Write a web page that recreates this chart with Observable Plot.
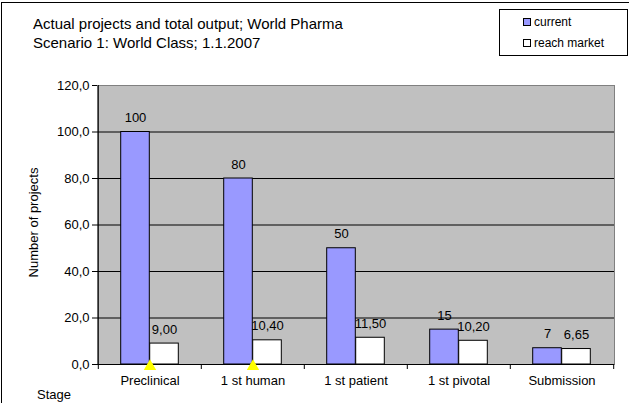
<!DOCTYPE html>
<html><head><meta charset="utf-8">
<script src="https://cdn.jsdelivr.net/npm/d3@7"></script>
<script src="https://cdn.jsdelivr.net/npm/@observablehq/plot@0.6"></script>
<style>
html,body{margin:0;padding:0;overflow:hidden;background:#fff;}
#wrap{position:relative;width:629px;height:403px;font-family:"Liberation Sans",Arial,sans-serif;color:#000;}
#chart{position:absolute;left:0;top:0;}
#border{position:absolute;left:1px;top:2px;width:700px;height:500px;border-left:1px solid #000;border-top:1px solid #000;}
#title{position:absolute;left:33px;top:13.5px;font-size:15px;line-height:19.5px;white-space:nowrap;}
#legend{position:absolute;left:499px;top:9px;width:127px;height:45px;border:1px solid #000;background:#fff;font-size:12px;}
.item{position:absolute;left:23px;height:14px;line-height:14px;display:flex;align-items:center;white-space:nowrap;}
.sw{width:6px;height:6px;border:1px solid #000;margin-right:3px;}
#stage{position:absolute;left:37px;top:386.5px;font-size:13px;line-height:15px;}
#ylabel{position:absolute;left:-37px;top:214.5px;width:140px;height:15px;line-height:15px;text-align:center;font-size:13px;transform:rotate(-90deg);transform-origin:50% 50%;white-space:nowrap;}
</style>
</head><body>
<div id="wrap">
  <div id="border"></div>
  <div id="chart"></div>
  <div id="title">Actual projects and total output; World Pharma<br>Scenario 1: World Class; 1.1.2007</div>
  <div id="legend">
    <div class="item" style="top:4.7px"><span class="sw" style="background:#9999ff"></span>current</div>
    <div class="item" style="top:26.3px"><span class="sw" style="background:#fff"></span>reach market</div>
  </div>
  <div id="ylabel">Number of projects</div>
  <div id="stage">Stage</div>
</div>
<script>
const stages = ["Preclinical", "1 st human", "1 st patient", "1 st pivotal", "Submission"];
const current = [100, 80, 50, 15, 7];
const reachMarket = [9.00, 10.40, 11.50, 10.20, 6.65];
const markerStages = ["Preclinical", "1 st human"];
const yTicks = [0, 20, 40, 60, 80, 100, 120];
const gridValues = [20, 40, 60, 80, 100];

const W = 629, H = 403, mL = 97, mR = 15, mT = 85, mB = 39;
const bw = (W - mL - mR) / stages.length;
const barW = 29;
const data = stages.map((s, i) => ({stage: s, current: current[i], reach: reachMarket[i]}));
const comma = (v, d) => v.toFixed(d).replace(".", ",");

const chart = Plot.plot({
  width: W, height: H,
  marginLeft: mL, marginRight: mR, marginTop: mT, marginBottom: mB,
  style: {fontFamily: "'Liberation Sans', Arial, sans-serif", fontSize: "13px", background: "transparent", color: "#000", overflow: "visible"},
  x: {domain: stages, padding: 0, label: null, tickSize: 0, tickPadding: 11},
  y: {domain: [0, 120], ticks: yTicks, tickFormat: d => comma(d, 1), label: null, tickSize: 5, tickPadding: 3},
  marks: [
    Plot.frame({fill: "#c0c0c0", stroke: "#808080"}),
    Plot.ruleY(gridValues, {stroke: "#000", strokeWidth: 1}),
    Plot.barY(data, {x: "stage", y: "current", fill: "#9999ff", stroke: "#000", strokeWidth: 1, insetLeft: bw / 2 - barW, insetRight: bw / 2}),
    Plot.barY(data, {x: "stage", y: "reach", fill: "#ffffff", stroke: "#000", strokeWidth: 1, insetLeft: bw / 2, insetRight: bw / 2 - barW}),
    Plot.ruleY([0], {stroke: "#000"}),
    Plot.ruleX([stages[0]], {x: d => d, dx: -bw / 2, stroke: "#000"}),
    Plot.ruleX(stages, {x: d => d, dx: -bw / 2, y1: 0, y2: 0, insetBottom: -5, stroke: "#000"}),
    Plot.ruleX([stages[stages.length - 1]], {x: d => d, dx: bw / 2, y1: 0, y2: 0, insetBottom: -5, stroke: "#000"}),
    Plot.dot(markerStages, {x: d => d, y: 0, symbol: "triangle", r: 4.6, fill: "#ffff00", stroke: "none", dy: 2}),
    Plot.text(data, {x: "stage", y: "current", text: d => String(d.current), dx: -barW / 2, dy: -14, fontSize: 13}),
    Plot.text(data, {x: "stage", y: "reach", text: d => comma(d.reach, 2), dx: barW / 2, dy: -14, fontSize: 13})
  ]
});
document.getElementById("chart").appendChild(chart);
</script>
</body></html>
